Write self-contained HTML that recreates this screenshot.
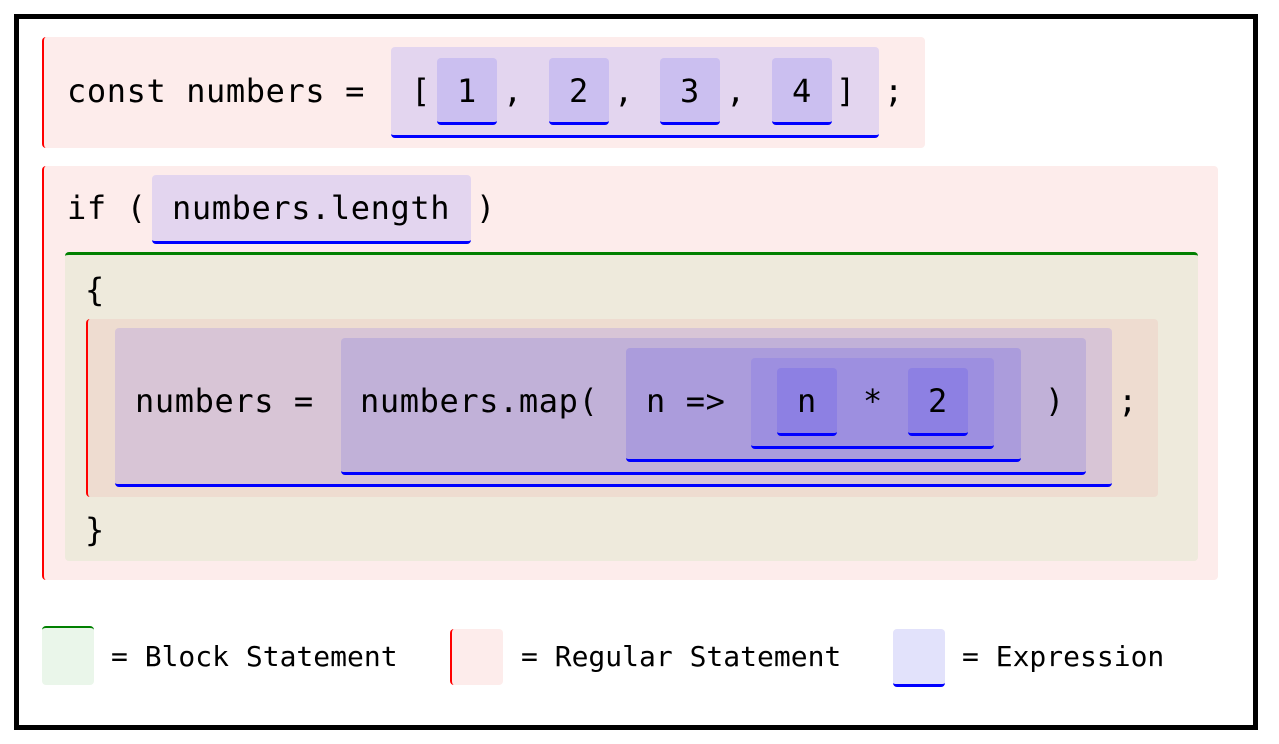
<!DOCTYPE html>
<html><head><meta charset="utf-8"><style>
body{margin:0;width:1279px;height:744px;background:#fff;position:relative;overflow:hidden;font-family:"DejaVu Sans Mono","Liberation Mono",monospace;}
.b{position:absolute;box-sizing:border-box;border-radius:4px;}
.s{background:#fdeceb;border-left:2px solid #f00;}
.e{border-bottom:3px solid #00f;}
.t{position:absolute;font-size:32px;line-height:40px;height:40px;white-space:pre;color:#000;letter-spacing:0.6px;}
.l{position:absolute;font-size:28px;line-height:36px;white-space:pre;color:#000;}
</style></head><body>
<div class="b" style="left:14px;top:14px;width:1244px;height:716px;border:5px solid #000;border-radius:0"></div>

<div class="b s" style="left:42px;top:37px;width:883px;height:111px"></div>
<div class="b e" style="left:391px;top:47px;width:488px;height:91px;background:#e3d5ef"></div>
<div class="b e" style="left:437px;top:58px;width:60px;height:67px;background:#cbbff0"></div>
<div class="b e" style="left:549px;top:58px;width:60px;height:67px;background:#cbbff0"></div>
<div class="b e" style="left:660px;top:58px;width:60px;height:67px;background:#cbbff0"></div>
<div class="b e" style="left:772px;top:58px;width:60px;height:67px;background:#cbbff0"></div>
<div class="t" style="left:67px;top:71px">const numbers =</div>
<div class="t" style="left:411px;top:71px">[</div>
<div class="t" style="left:457px;top:71px">1</div>
<div class="t" style="left:503px;top:71px">,</div>
<div class="t" style="left:569px;top:71px">2</div>
<div class="t" style="left:614px;top:71px">,</div>
<div class="t" style="left:680px;top:71px">3</div>
<div class="t" style="left:726px;top:71px">,</div>
<div class="t" style="left:792px;top:71px">4</div>
<div class="t" style="left:836px;top:71px">]</div>
<div class="t" style="left:884px;top:71px">;</div>

<div class="b s" style="left:42px;top:166px;width:1176px;height:414px"></div>
<div class="b e" style="left:152px;top:175px;width:319px;height:69px;background:#e3d5ef"></div>
<div class="t" style="left:67px;top:188px">if (</div>
<div class="t" style="left:172px;top:188px">numbers.length</div>
<div class="t" style="left:476px;top:188px">)</div>

<div class="b" style="left:65px;top:252px;width:1133px;height:309px;background:#eeeadc;border-top:3px solid #008000"></div>
<div class="t" style="left:85px;top:270px">{</div>
<div class="t" style="left:85px;top:510px">}</div>

<div class="b" style="left:86px;top:319px;width:1072px;height:178px;background:#eedcd0;border-left:2px solid #f00"></div>
<div class="b e" style="left:115px;top:328px;width:997px;height:159px;background:#d8c5d6"></div>
<div class="b e" style="left:341px;top:338px;width:745px;height:137px;background:#c1b1d8"></div>
<div class="b e" style="left:626px;top:348px;width:395px;height:114px;background:#ab9cdc"></div>
<div class="b e" style="left:751px;top:358px;width:243px;height:91px;background:#9d8fe0"></div>
<div class="b e" style="left:777px;top:368px;width:60px;height:68px;background:#8d80e3"></div>
<div class="b e" style="left:908px;top:368px;width:60px;height:68px;background:#8d80e3"></div>
<div class="t" style="left:135px;top:381px">numbers =</div>
<div class="t" style="left:360px;top:381px">numbers.map(</div>
<div class="t" style="left:646px;top:381px">n =&gt;</div>
<div class="t" style="left:797px;top:381px">n</div>
<div class="t" style="left:863px;top:381px">*</div>
<div class="t" style="left:928px;top:381px">2</div>
<div class="t" style="left:1045px;top:381px">)</div>
<div class="t" style="left:1118px;top:381px">;</div>

<div class="b" style="left:42px;top:626px;width:52px;height:59px;background:#eaf6ea;border-top:2px solid #008000"></div>
<div class="l" style="left:111px;top:639px">= Block Statement</div>
<div class="b s" style="left:450px;top:629px;width:53px;height:56px"></div>
<div class="l" style="left:521px;top:639px">= Regular Statement</div>
<div class="b e" style="left:893px;top:629px;width:52px;height:58px;background:#e2e2fb"></div>
<div class="l" style="left:962px;top:639px">= Expression</div>
</body></html>
